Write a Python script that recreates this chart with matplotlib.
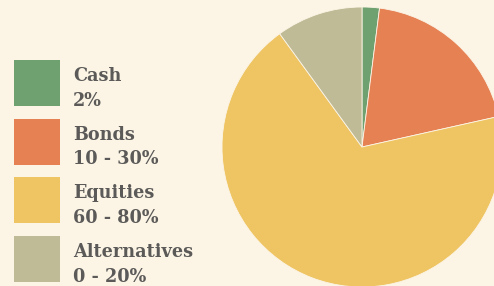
import matplotlib.pyplot as plt
from matplotlib.patches import Rectangle

labels = ["Cash", "Bonds", "Equities", "Alternatives"]
ranges = ["2%", "10 - 30%", "60 - 80%", "0 - 20%"]
shares = [2, 19.5, 68.5, 10]
colors = ["#6fa06f", "#e68154", "#efc463", "#bfbb96"]

bg = "#fcf5e6"
text_color = "#5b5a58"

fig = plt.figure(figsize=(4.94, 2.86), dpi=100, facecolor=bg)
ax = fig.add_axes([0, 0, 1, 1])
ax.set_facecolor(bg)

ax.pie(shares, colors=colors, startangle=90, counterclock=False,
       center=(362, 139), radius=140, frame=True,
       wedgeprops={"linewidth": 0.6, "edgecolor": bg})
ax.set_xlim(0, 494)
ax.set_ylim(0, 286)
ax.set_aspect("equal")
ax.axis("off")

# legend: swatch + two bold lines
font = dict(fontsize=12.7, fontweight="bold", family="DejaVu Serif",
            color=text_color, va="baseline")
for i, (name, rng, col) in enumerate(zip(labels, ranges, colors)):
    top = 286 - 60 - i * 58.7
    ax.add_patch(Rectangle((14, top - 46), 46, 46, facecolor=col, edgecolor="none"))
    ax.text(73, top - 21, name, **font)
    ax.text(73, top - 45.5, rng, **font)

fig.savefig("out.png", dpi=100, facecolor=bg)
